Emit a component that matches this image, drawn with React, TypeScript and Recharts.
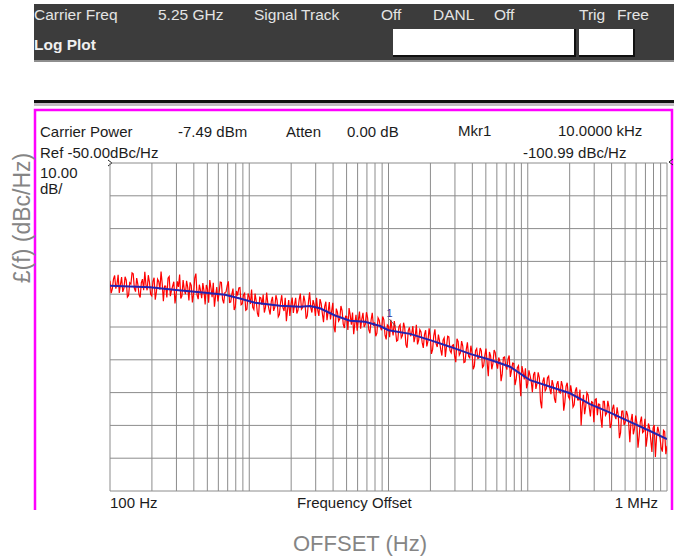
import { LineChart, Line, XAxis, YAxis, CartesianGrid, ReferenceDot } from "recharts";

// Log grid: 100 Hz .. 1 MHz, 1-2-3..9 per decade
const GRID_FREQS = [
  100, 200, 300, 400, 500, 600, 700, 800, 900,
  1000, 2000, 3000, 4000, 5000, 6000, 7000, 8000, 9000,
  10000, 20000, 30000, 40000, 50000, 60000, 70000, 80000, 90000,
  100000, 200000, 300000, 400000, 500000, 600000, 700000, 800000, 900000,
  1000000,
];
const DB_TICKS = [-150, -140, -130, -120, -110, -100, -90, -80, -70, -60, -50];

// Smoothed trace (blue)
const TREND_FREQS = [
  100, 194, 298, 443, 670, 858, 1100, 1660, 2320, 2730, 3220, 4130, 5290, 6780, 8690, 10000,
  14300, 19900, 27600, 38500, 53600, 74600, 95600, 104000, 145000, 201000, 280000, 390000,
  543000, 755000, 1000000,
];
const TREND_DB = [
  -87.4, -87.9, -88.7, -89.4, -90.2, -91.3, -92.6, -93.5, -93.8, -93.6, -94.3, -96.5, -98.1,
  -98.4, -99.7, -100.99, -102.1, -104.0, -106.0, -108.2, -110.0, -112.1, -115.2, -116.2,
  -118.2, -120.2, -123.5, -126.1, -128.9, -131.7, -134.2,
];

// Raw trace (red), 120 sweep points per decade starting at 100 Hz
const POINTS_PER_DECADE = 120;
const TRACE_DB = [
  -85.9, -89.7, -88.4, -85.4, -84.3, -88.3, -87.0, -84.1, -89.6, -87.1, -84.8, -89.3, -88.2, -84.7, -85.7, -90.9, -90.4, -86.5, -86.9, -83.5,
  -83.8, -88.2, -89.2, -85.1, -87.0, -90.1, -91.0, -86.5, -85.4, -88.8, -83.2, -87.2, -88.8, -84.2, -86.3, -90.0, -90.5, -86.1, -85.0, -91.7,
  -89.3, -85.4, -86.1, -88.6, -83.1, -86.8, -92.1, -87.5, -87.5, -91.0, -85.1, -84.6, -90.6, -88.8, -87.5, -86.2, -92.8, -90.0, -86.1, -87.8,
  -84.0, -91.3, -90.5, -85.7, -88.5, -90.0, -85.9, -88.0, -91.9, -86.4, -87.3, -92.5, -90.0, -85.1, -83.7, -90.2, -91.5, -87.1, -88.8, -91.2,
  -86.6, -89.0, -93.1, -87.2, -88.4, -92.6, -85.7, -88.1, -90.9, -86.5, -93.8, -90.5, -87.8, -92.2, -89.8, -86.3, -86.4, -91.6, -92.8, -89.5,
  -89.3, -87.4, -86.1, -92.5, -92.4, -90.0, -88.3, -94.8, -93.9, -89.0, -90.4, -88.1, -88.0, -93.2, -92.9, -90.2, -89.7, -94.9, -94.6, -89.8,
  -90.9, -93.0, -88.6, -94.0, -94.7, -89.8, -92.0, -95.8, -96.9, -90.9, -91.1, -93.3, -90.1, -95.6, -94.0, -89.5, -92.8, -94.6, -96.2, -92.2,
  -90.8, -95.1, -94.0, -90.3, -91.9, -96.9, -96.2, -92.5, -90.3, -94.1, -95.1, -91.1, -98.2, -94.7, -91.8, -96.6, -93.1, -91.0, -95.7, -93.3,
  -91.1, -95.9, -94.9, -91.7, -89.8, -94.6, -94.1, -90.4, -92.3, -97.5, -96.6, -92.5, -89.4, -94.1, -95.6, -91.8, -93.2, -96.6, -91.1, -94.9,
  -96.6, -91.5, -92.9, -95.9, -98.5, -93.8, -92.3, -97.9, -95.3, -92.4, -97.7, -95.2, -92.6, -100.0, -101.6, -94.4, -95.5, -98.2, -97.6, -93.6,
  -95.0, -99.1, -100.3, -96.7, -96.8, -100.9, -94.2, -96.3, -99.3, -95.6, -102.2, -98.9, -96.3, -101.1, -97.9, -95.3, -100.5, -97.6, -95.7, -100.0,
  -99.2, -95.5, -97.2, -100.8, -101.9, -97.9, -95.7, -99.6, -98.6, -102.8, -101.9, -97.2, -97.9, -100.1, -101.0, -96.8, -97.8, -102.5, -103.8, -99.4,
  -99.8, -103.1, -97.8, -100.4, -102.6, -98.2, -100.9, -104.3, -104.0, -99.9, -99.3, -103.3, -102.6, -98.7, -100.3, -105.4, -106.3, -101.2, -100.1, -102.8,
  -101.9, -99.7, -104.6, -102.9, -99.3, -105.3, -104.0, -100.8, -101.5, -104.7, -106.4, -102.3, -101.0, -105.9, -104.3, -100.4, -102.9, -108.2, -106.9, -102.7,
  -100.7, -105.1, -106.1, -102.3, -104.3, -106.9, -108.7, -104.0, -103.3, -109.1, -105.9, -102.8, -103.0, -107.2, -107.9, -105.6, -105.4, -108.9, -110.7, -103.6,
  -104.4, -108.6, -107.9, -104.3, -105.8, -110.8, -110.6, -106.9, -104.7, -108.9, -109.4, -105.7, -107.9, -112.9, -111.9, -107.2, -106.6, -109.6, -109.4, -106.4,
  -107.3, -112.3, -111.8, -108.7, -106.6, -110.8, -115.0, -107.6, -108.8, -112.9, -111.1, -107.0, -107.8, -111.1, -112.7, -109.3, -110.4, -116.5, -114.3, -109.3,
  -109.1, -111.8, -113.0, -109.7, -108.7, -115.2, -113.2, -111.0, -111.1, -117.7, -116.0, -112.4, -111.8, -115.9, -121.1, -111.9, -113.8, -116.0, -112.6, -118.7,
  -117.2, -113.2, -114.8, -116.6, -119.9, -114.5, -113.7, -118.9, -117.2, -113.8, -115.5, -122.7, -124.8, -116.6, -115.4, -119.5, -118.8, -115.5, -115.0, -118.8,
  -120.5, -116.2, -117.7, -121.8, -123.1, -117.5, -116.5, -119.8, -120.1, -116.5, -118.0, -125.5, -122.9, -118.1, -117.0, -121.2, -121.9, -117.8, -120.1, -124.4,
  -123.7, -119.5, -118.4, -122.2, -122.2, -119.1, -130.0, -124.1, -120.7, -126.6, -124.1, -120.0, -120.7, -124.5, -127.3, -122.8, -123.0, -129.0, -122.1, -121.9,
  -126.9, -123.5, -123.6, -127.7, -130.7, -122.7, -122.7, -126.9, -126.3, -122.5, -124.4, -130.8, -129.6, -125.0, -123.7, -127.1, -128.1, -124.5, -126.9, -133.9,
  -132.2, -125.7, -125.6, -129.9, -129.1, -125.6, -126.8, -129.5, -135.1, -128.5, -126.5, -132.7, -131.0, -127.0, -129.2, -136.8, -133.3, -128.9, -127.3, -132.2,
  -131.8, -128.0, -136.5, -133.5, -129.4, -130.8, -134.4, -138.1, -130.8, -129.9, -139.6, -133.5, -130.4, -132.0, -133.9, -136.9, -138.0, -131.5, -131.9, -138.8,
  -136.2,
];

const MARKER_FREQ = 10000;
const MARKER_DB = -100.99;

const traceData = TRACE_DB.map((db, i) => ({ f: 100 * Math.pow(10, i / POINTS_PER_DECADE), db }));
const trendData = TREND_FREQS.map((f, i) => ({ f, db: TREND_DB[i] }));

const FONT = "'Liberation Sans', Arial, sans-serif";
const HDR = { fill: "#e4e4e4", fontSize: 15.5, fontFamily: FONT };
const BOX = { fill: "#1c1c1c", fontSize: 15, fontFamily: FONT };

function FreqTick({ x, y, payload }: any) {
  if (payload.value === 100)
    return (
      <text x={x} y={y + 9} textAnchor="start" style={BOX}>
        100 Hz
      </text>
    );
  if (payload.value === 1000000)
    return (
      <text x={x - 9} y={y + 9} textAnchor="end" style={BOX}>
        1 MHz
      </text>
    );
  return <g />;
}

// y ticks are not labelled inside the plot; keep them for the grid only
function NoTick() {
  return <g />;
}

function MarkerShape({ cx, cy }: any) {
  return (
    <g>
      <line x1={cx + 1} y1={cy - 11} x2={cx + 7} y2={cy - 4} stroke="#555" strokeWidth={1} />
      <text x={cx - 2} y={cy - 13} fontSize={11} fontFamily={FONT} fill="#333399">
        1
      </text>
    </g>
  );
}

export default function App() {
  return (
    <div style={{ position: "absolute", left: 0, top: 0, width: 674, height: 558, background: "#fff" }}>
      <svg width={674} height={558} style={{ position: "absolute", left: 0, top: 0 }}>
        {/* instrument header */}
        <rect x={34} y={4} width={640} height={56} fill="#3c3c3c" />
        <rect x={34} y={60} width={640} height={2} fill="#8e8e8e" />
        <text x={34} y={20} style={HDR}>Carrier Freq</text>
        <text x={158} y={20} style={HDR}>5.25 GHz</text>
        <text x={254} y={20} style={HDR}>Signal Track</text>
        <text x={381} y={20} style={HDR}>Off</text>
        <text x={433} y={20} style={HDR}>DANL</text>
        <text x={494} y={20} style={HDR}>Off</text>
        <text x={579} y={20} style={HDR}>Trig</text>
        <text x={617} y={20} style={HDR}>Free</text>
        <text x={34} y={50} style={{ ...HDR, fontWeight: "bold", fill: "#f0f0f0" }}>Log Plot</text>
        <rect x={393} y={29} width={182} height={27} fill="#fff" />
        <path d="M393 56 H575 V29" stroke="#111" strokeWidth={2} fill="none" />
        <rect x={579} y={29} width={55} height={27} fill="#fff" />
        <path d="M579 56 H634 V29" stroke="#111" strokeWidth={2} fill="none" />

        <rect x={34} y={100} width={640} height={3} fill="#111" />
        <rect x={34} y={103} width={640} height={3} fill="#c4bcc4" />

        {/* magenta frame */}
        <path d="M35 510 V110 H672 V510" stroke="#ff00ff" strokeWidth={2.5} fill="none" />

        {/* annotation text */}
        <text x={40} y={137} style={BOX}>Carrier Power</text>
        <text x={178} y={137} style={BOX}>-7.49 dBm</text>
        <text x={286} y={137} style={BOX}>Atten</text>
        <text x={347} y={137} style={BOX}>0.00 dB</text>
        <text x={458} y={136} style={BOX}>Mkr1</text>
        <text x={558} y={136} style={BOX}>10.0000 kHz</text>
        <text x={40} y={158} style={BOX}>Ref -50.00dBc/Hz</text>
        <text x={523} y={158} style={BOX}>-100.99 dBc/Hz</text>
        <text x={40} y={178} style={BOX}>10.00</text>
        <text x={40} y={194} style={BOX}>dB/</text>
        <path d="M108 160 L112 163 L108 166" stroke="#222" fill="none" strokeWidth={1} />
        <path d="M673 159 L669 162 L673 165" stroke="#222" fill="none" strokeWidth={1} />
        <text x={297} y={508} style={BOX}>Frequency Offset</text>

        {/* outer axis titles */}
        <text
          x={22}
          y={218}
          transform="rotate(-90 22 218)"
          textAnchor="middle"
          dominantBaseline="central"
          fontSize={23}
          fontFamily={FONT}
          fill="#858585"
        >
          £(f) (dBc/Hz)
        </text>
        <text x={360} y={551} textAnchor="middle" fontSize={22} fontFamily={FONT} fill="#858585">
          OFFSET (Hz)
        </text>
      </svg>

      <div style={{ position: "absolute", left: 0, top: 0 }}>
        <LineChart width={674} height={558} margin={{ top: 163, right: 7, bottom: 47, left: 110 }}>
          <CartesianGrid stroke="#8c8c8c" strokeWidth={1} />
          <XAxis
            dataKey="f"
            type="number"
            scale="log"
            domain={[100, 1000000]}
            ticks={GRID_FREQS}
            interval={0}
            allowDataOverflow
            axisLine={false}
            tickLine={false}
            height={20}
            tick={<FreqTick />}
          />
          <YAxis
            type="number"
            domain={[-150, -50]}
            ticks={DB_TICKS}
            interval={0}
            allowDataOverflow
            axisLine={false}
            tickLine={false}
            tick={<NoTick />}
            width={0}
          />
          <Line
            data={traceData}
            dataKey="db"
            type="linear"
            stroke="#ff0000"
            strokeWidth={1.2}
            dot={false}
            isAnimationActive={false}
          />
          <Line
            data={trendData}
            dataKey="db"
            type="linear"
            stroke="#2222b0"
            strokeWidth={2}
            dot={false}
            isAnimationActive={false}
          />
          <ReferenceDot x={MARKER_FREQ} y={MARKER_DB} r={0} shape={<MarkerShape />} ifOverflow="visible" />
        </LineChart>
      </div>
    </div>
  );
}
